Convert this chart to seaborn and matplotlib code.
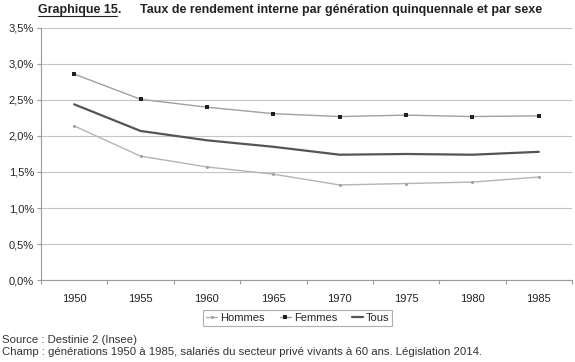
import matplotlib
matplotlib.use("Agg")
import matplotlib.pyplot as plt
import seaborn as sns
import pandas as pd
from matplotlib.lines import Line2D
from matplotlib.ticker import FuncFormatter, FixedLocator

years = ["1950", "1955", "1960", "1965", "1970", "1975", "1980", "1985"]
hommes = [2.14, 1.72, 1.57, 1.47, 1.32, 1.34, 1.36, 1.43]
femmes = [2.86, 2.51, 2.40, 2.31, 2.27, 2.29, 2.27, 2.28]
tous = [2.44, 2.07, 1.94, 1.85, 1.74, 1.75, 1.74, 1.78]
yticks = [0, 0.5, 1.0, 1.5, 2.0, 2.5, 3.0, 3.5]

sns.set_theme(style="white")
plt.rcParams["font.family"] = ["Liberation Sans", "DejaVu Sans"]

fig = plt.figure(figsize=(5.75, 3.62), dpi=100)
ax = fig.add_axes([0.0713, 0.2265, 0.9235, 0.6962])

series = [
    ("Hommes", hommes, "#b4b4b4", 1.0, "o", 2.2, "#a0a0a0"),
    ("Femmes", femmes, "#a0a0a0", 1.0, "s", 2.8, "#202020"),
    ("Tous", tous, "#555555", 1.6, None, 0, "#555555"),
]
for name, vals, col, lw, mk, ms, mc in series:
    df = pd.DataFrame({"year": years, "val": vals})
    sns.lineplot(data=df, x="year", y="val", ax=ax, color=col, linewidth=lw,
                 marker=mk if mk else None, markersize=ms, markerfacecolor=mc,
                 markeredgewidth=0, label=name, legend=False, sort=False)

ax.set_xlim(-0.5, 7.5)
ax.set_ylim(0, 3.5)
ax.yaxis.set_major_locator(FixedLocator(yticks))
ax.yaxis.set_major_formatter(FuncFormatter(lambda v, p: f"{v:.1f}%".replace(".", ",")))
ax.grid(axis="y", color="#c4c4c4", linewidth=0.8)
ax.set_axisbelow(True)
ax.set_xlabel("")
ax.set_ylabel("")
for s in ["top", "right"]:
    ax.spines[s].set_visible(False)
for s in ["left", "bottom"]:
    ax.spines[s].set_color("#9a9a9a")
    ax.spines[s].set_linewidth(0.8)
ax.set_xticks(range(len(years)))
ax.set_xticklabels(years)
ax.set_xticks([i - 0.5 for i in range(len(years) + 1)], minor=True)
ax.tick_params(axis="x", which="major", length=0, labelsize=8, pad=10, colors="#222222")
ax.tick_params(axis="x", which="minor", length=3, color="#9a9a9a", width=0.8, bottom=True)
ax.tick_params(axis="y", length=3, color="#9a9a9a", width=0.8, labelsize=8, left=True, pad=2)
for t in ax.get_yticklabels() + ax.get_xticklabels():
    t.set_color("#222222")

handles = [
    Line2D([], [], color="#b4b4b4", lw=1.0, marker="o", ms=2.2, mew=0, mfc="#a0a0a0"),
    Line2D([], [], color="#a0a0a0", lw=1.0, marker="s", ms=2.8, mew=0, mfc="#202020"),
    Line2D([], [], color="#555555", lw=1.6),
]
leg = fig.legend(handles, ["Hommes", "Femmes", "Tous"], loc="center",
                 bbox_to_anchor=(0.518, 0.122), ncol=3, fontsize=8, frameon=True,
                 fancybox=False, handlelength=1.0, handletextpad=0.3, columnspacing=1.3,
                 borderpad=0.25, edgecolor="#9a9a9a", borderaxespad=0)
leg.get_frame().set_linewidth(0.8)

ty = 0.99
tx = 0.066
t1 = fig.text(tx, ty, "Graphique 15.", fontsize=9, fontweight="bold",
              va="top", ha="left", color="#222222")
tmp = fig.text(tx, ty, "Graphique 15", fontsize=9, fontweight="bold",
               va="top", ha="left", color="#222222")
fig.canvas.draw()
bb = tmp.get_window_extent()
tmp.remove()
x0, x1 = bb.x0 / fig.bbox.width, (bb.x1 - 1) / fig.bbox.width
yl = (bb.y0 - 0.5) / fig.bbox.height
fig.add_artist(Line2D([x0, x1], [yl, yl], color="#222222", lw=0.8, transform=fig.transFigure))
fig.text(0.243, ty, "Taux de rendement interne par génération quinquennale et par sexe",
         fontsize=9, fontweight="bold", va="top", ha="left", color="#222222")

fig.text(0.003, 0.062, "Source : Destinie 2 (Insee)", fontsize=8.2, va="center", ha="left",
         color="#333333")
fig.text(0.003, 0.027, "Champ : générations 1950 à 1985, salariés du secteur privé vivants à 60 ans. Législation 2014.",
         fontsize=8.2, va="center", ha="left", color="#333333")

fig.savefig("out.png", dpi=100)
